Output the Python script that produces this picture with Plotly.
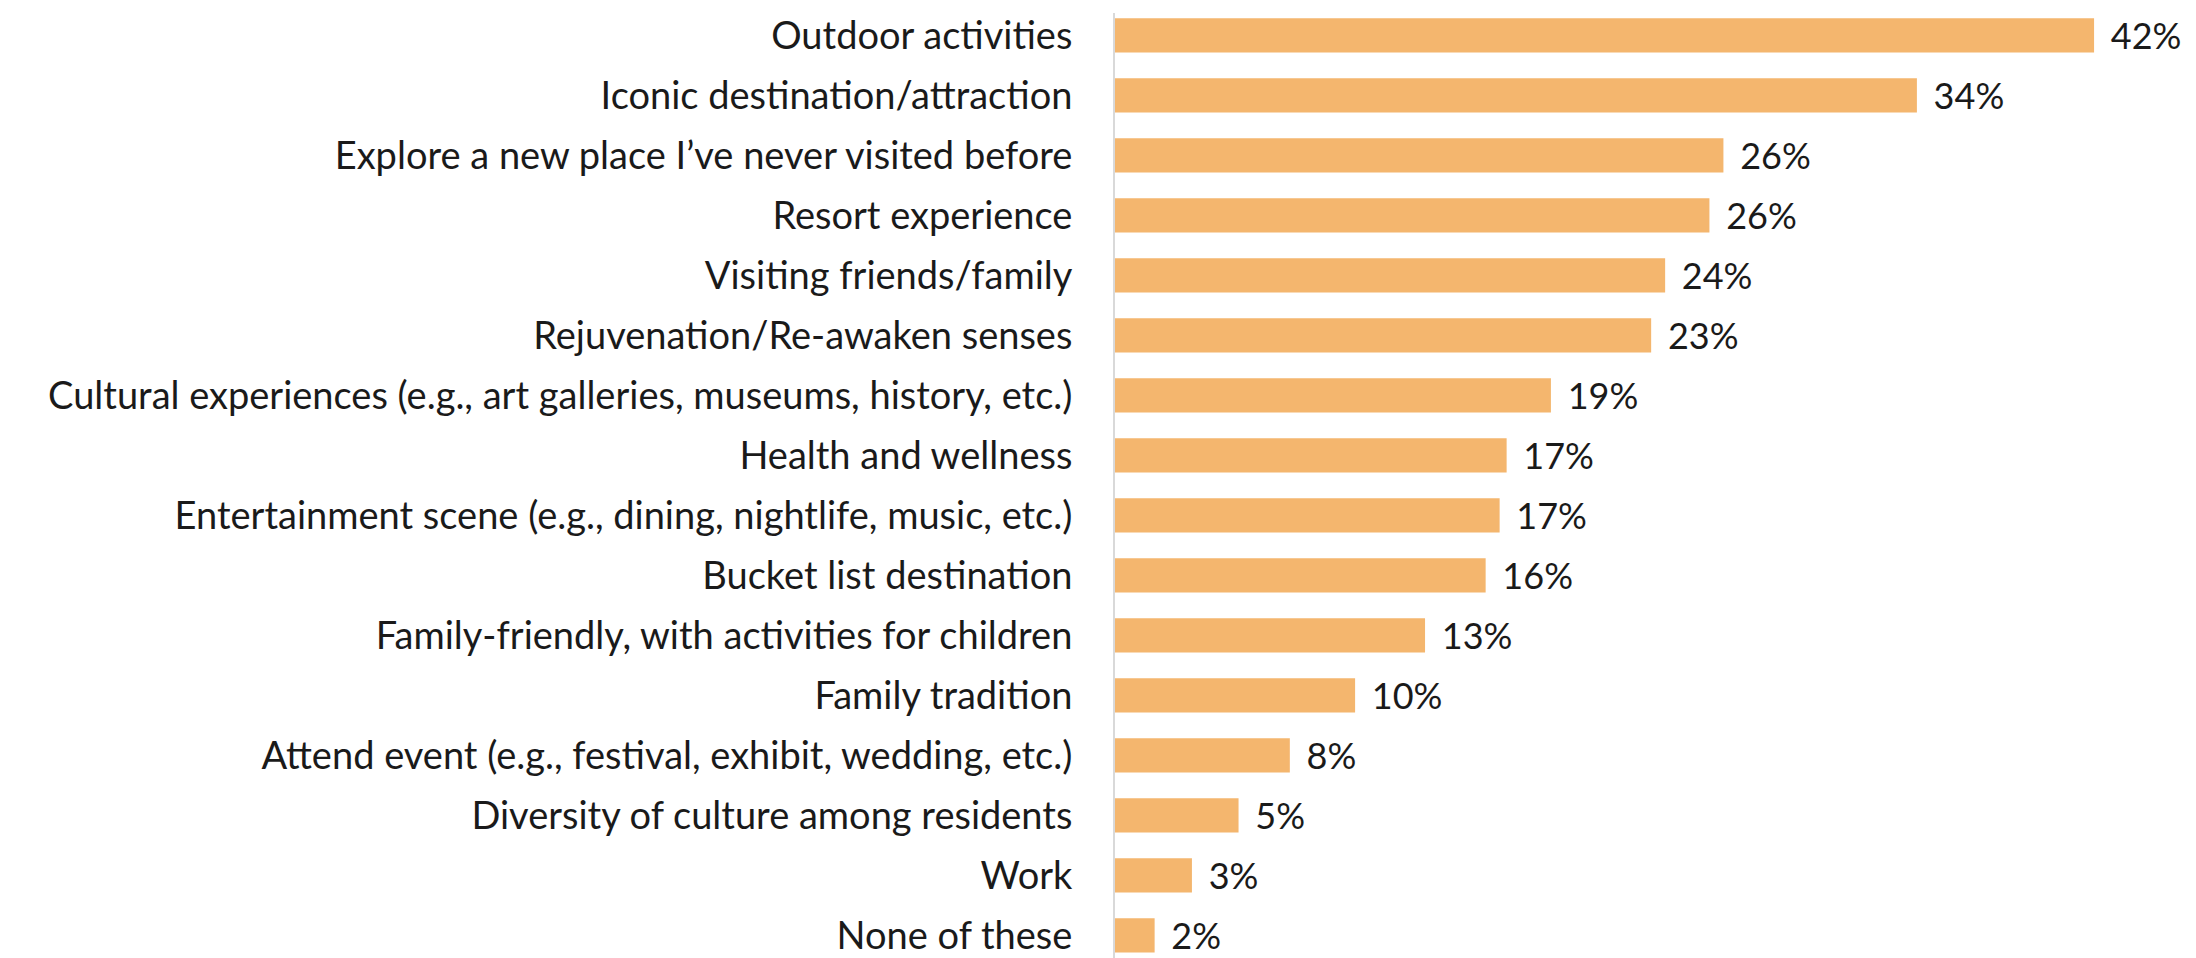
import plotly.graph_objects as go

categories = [
    "Outdoor activities",
    "Iconic destination/attraction",
    "Explore a new place I’ve never visited before",
    "Resort experience",
    "Visiting friends/family",
    "Rejuvenation/Re-awaken senses",
    "Cultural experiences (e.g., art galleries, museums, history, etc.)",
    "Health and wellness",
    "Entertainment scene (e.g., dining, nightlife, music, etc.)",
    "Bucket list destination",
    "Family-friendly, with activities for children",
    "Family tradition",
    "Attend event (e.g., festival, exhibit, wedding, etc.)",
    "Diversity of culture among residents",
    "Work",
    "None of these",
]
values = [42.0, 34.4, 26.1, 25.5, 23.6, 23.0, 18.7, 16.8, 16.5, 15.9, 13.3, 10.3, 7.5, 5.3, 3.3, 1.7]
labels = ["42%", "34%", "26%", "26%", "24%", "23%", "19%", "17%", "17%", "16%", "13%", "10%", "8%", "5%", "3%", "2%"]

FONT = "Lato, Open Sans, sans-serif"
FS = 38

fig = go.Figure(
    go.Bar(
        x=values,
        y=categories,
        orientation="h",
        marker=dict(color="#F4B66E", line=dict(width=0)),
        text=[" \u2009" + t for t in labels],
        textposition="outside",
        constraintext="none",
        cliponaxis=False,
        textfont=dict(family=FONT, size=36, color="#1a1a1a"),
        width=0.57,
    )
)

fig.update_layout(
    width=2196,
    height=958,
    margin=dict(l=1107, r=40, t=5, b=0, autoexpand=False),
    paper_bgcolor="white",
    plot_bgcolor="white",
    showlegend=False,
    font=dict(family=FONT, size=FS, color="#1a1a1a"),
    xaxis=dict(range=[0, 45], visible=False, showgrid=False, zeroline=False, automargin=False),
    yaxis=dict(
        range=[15.51, -0.372],
        automargin=False,
        showgrid=False,
        zeroline=False,
        showline=True,
        linecolor="#d9d9d9",
        linewidth=2,
        ticks="",
        ticklabelstandoff=33,
        tickfont=dict(family=FONT, size=FS, color="#1a1a1a"),
    ),
)

fig.write_html("out.html")
